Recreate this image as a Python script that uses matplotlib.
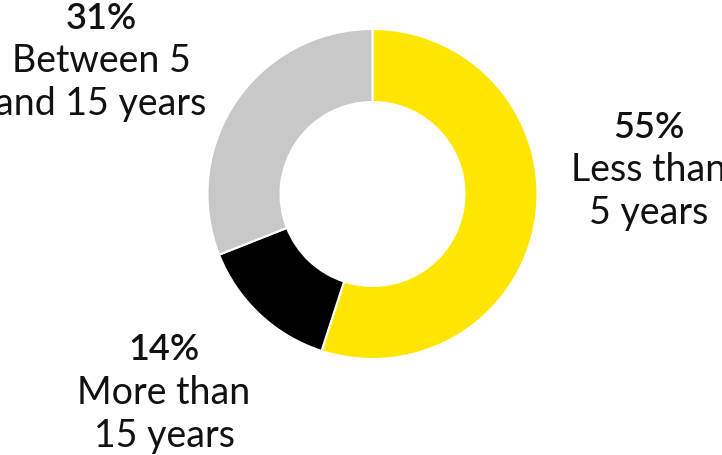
import matplotlib.pyplot as plt

# Share of items by age band
shares = [55, 14, 31]
pct_labels = ["55%", "14%", "31%"]
band_labels = ["Less than\n5 years", "More than\n15 years", "Between 5\nand 15 years"]
colors = ["#FFE600", "#000000", "#C8C8C8"]

W, H = 722, 456
fig = plt.figure(figsize=(W / 100, H / 100), dpi=100)
ax = fig.add_axes([0, 0, 1, 1])

cx, cy = 372.5, H - 195
r_out, r_in = 165, 92

ax.pie(shares, colors=colors, startangle=90, counterclock=False,
       center=(cx, cy), radius=r_out,
       wedgeprops=dict(width=r_out - r_in, edgecolor="white", linewidth=1.5))

ax.set_xlim(0, W)
ax.set_ylim(0, H)
ax.set_aspect("equal")
ax.axis("off")

# label blocks: (x, y of percent line) in pixels from the top-left
label_pos = [(649, 127), (164, 350), (101, 18)]
line_gap = 43
for (x, y), pct, band in zip(label_pos, pct_labels, band_labels):
    ax.text(x, H - y, pct, ha="center", va="center", fontsize=26,
            family="Lato", fontweight="semibold", color="#111111")
    for i, line in enumerate(band.split("\n")):
        ax.text(x, H - y - line_gap * (i + 1), line, ha="center", va="center",
                fontsize=27, family="Lato", fontweight="normal", color="#111111")

fig.savefig("out.png", dpi=100)
